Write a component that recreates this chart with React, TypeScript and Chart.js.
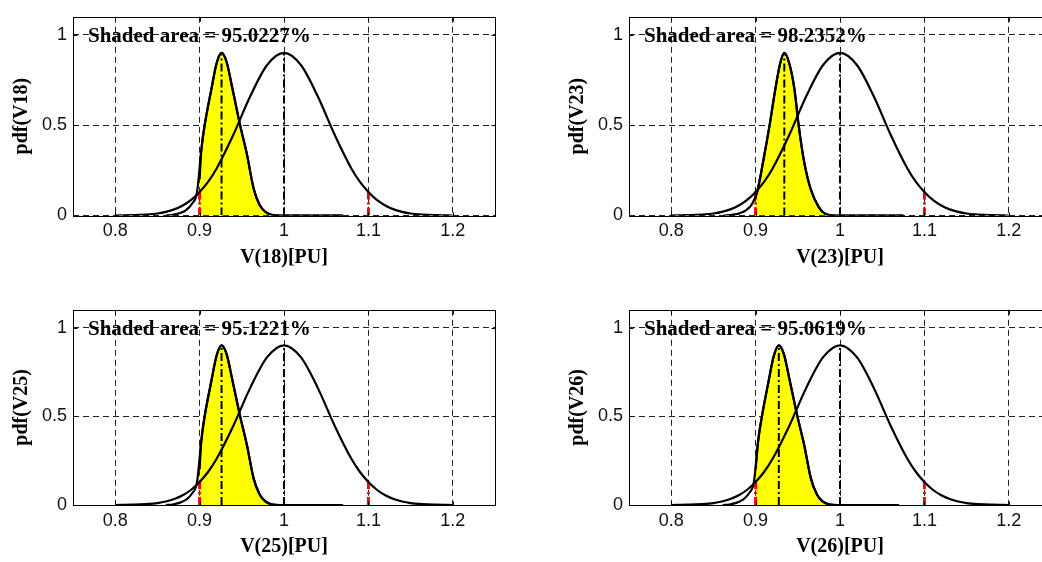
import React, { useEffect, useRef } from "react";
import { Chart, registerables } from "chart.js";

Chart.register(...registerables);

// ---- axis ticks ----
const xTicks = [0.8, 0.9, 1.0, 1.1, 1.2];
const xTickLabels = ["0.8", "0.9", "1", "1.1", "1.2"];
const yTicks = [0, 0.5, 1];
const yTickLabels = ["0", "0.5", "1"];

// ---- panels ----
const busIds = ["18", "23", "25", "26"];
const shadedAreas = ["95.0227%", "98.2352%", "95.1221%", "95.0619%"];

// ---- wide pdf (same in all panels) ----
const wideX = [0.80, 0.82, 0.84, 0.85, 0.86, 0.87, 0.88, 0.89, 0.90, 0.91, 0.92, 0.94, 0.96, 0.98, 1.00, 1.02, 1.04, 1.06, 1.08, 1.09, 1.10, 1.11, 1.12, 1.13, 1.14, 1.15, 1.16, 1.18, 1.20];
const wideY = [0, 0.002, 0.006, 0.011, 0.02, 0.034, 0.055, 0.086, 0.13, 0.186, 0.259, 0.447, 0.66, 0.833, 0.9, 0.833, 0.66, 0.447, 0.259, 0.186, 0.13, 0.086, 0.055, 0.034, 0.02, 0.011, 0.006, 0.002, 0];

// ---- narrow pdfs ----
const narrowX18 = [0.860, 0.868, 0.876, 0.884, 0.891, 0.897, 0.902, 0.906, 0.914, 0.920, 0.926, 0.932, 0.939, 0.948, 0.956, 0.964, 0.971, 0.978, 0.985, 0.995, 1.070];
const narrowY18 = [0, 0.003, 0.012, 0.03, 0.065, 0.13, 0.36, 0.5, 0.7, 0.84, 0.9, 0.85, 0.7, 0.5, 0.34, 0.15, 0.06, 0.02, 0.004, 0, 0];
const narrowX23 = [0.862, 0.872, 0.881, 0.889, 0.896, 0.902, 0.909, 0.9166, 0.9234, 0.929, 0.934, 0.940, 0.946, 0.951, 0.957, 0.965, 0.975, 0.983, 0.993, 1.075];
const narrowY23 = [0, 0.004, 0.012, 0.03, 0.065, 0.133, 0.3, 0.5, 0.7, 0.84, 0.9, 0.84, 0.7, 0.5, 0.31, 0.15, 0.045, 0.008, 0, 0];
const narrowX25 = [0.860, 0.868, 0.876, 0.884, 0.891, 0.897, 0.902, 0.906, 0.914, 0.920, 0.926, 0.932, 0.939, 0.948, 0.956, 0.964, 0.971, 0.978, 0.985, 0.995, 1.070];
const narrowY25 = [0, 0.003, 0.012, 0.03, 0.065, 0.13, 0.36, 0.5, 0.7, 0.84, 0.9, 0.85, 0.7, 0.5, 0.34, 0.15, 0.06, 0.02, 0.004, 0, 0];
const narrowX26 = [0.861, 0.869, 0.877, 0.885, 0.892, 0.898, 0.903, 0.9075, 0.9155, 0.9215, 0.9275, 0.9335, 0.9405, 0.9495, 0.9575, 0.9655, 0.9725, 0.9795, 0.9865, 0.9965, 1.070];
const narrowY26 = [0, 0.003, 0.012, 0.03, 0.065, 0.13, 0.36, 0.5, 0.7, 0.84, 0.9, 0.85, 0.7, 0.5, 0.34, 0.15, 0.06, 0.02, 0.004, 0, 0];

const narrowXs = [narrowX18, narrowX23, narrowX25, narrowX26];
const narrowYs = [narrowY18, narrowY23, narrowY25, narrowY26];

// ---- markers ----
const narrowPeakX = [0.926, 0.934, 0.926, 0.9275];
const widePeakX = 1.0;
const peakY = 0.9;
const limitX = [0.9, 1.1];
const limitY = [0.133, 0.133];
const shadeStartY = [0.2, 0.1, 0.2, 0.2];

// ---- layout (pixels, not data) ----
const panelLayout = [
  { left: 0, top: 0, height: 270, xAxisH: 54.5 },
  { left: 556, top: 0, height: 270, xAxisH: 54.5 },
  { left: 0, top: 293, height: 266, xAxisH: 54 },
  { left: 556, top: 293, height: 266, xAxisH: 54 },
];
const CANVAS_W = 499;
const Y_AXIS_W = 73;

const boxPlugin = {
  id: "matlabBox",
  afterDraw(chart: any, _args: any, opts: any) {
    const { ctx, chartArea: a, scales } = chart;
    ctx.save();
    ctx.strokeStyle = "#000";
    ctx.lineWidth = 1;
    ctx.setLineDash([]);
    const l = Math.round(a.left) + 0.5;
    const t = Math.round(a.top) + 0.5;
    const r = Math.round(a.right) + 0.5;
    const b = Math.round(a.bottom) + 0.5;
    ctx.strokeRect(l, t, r - l, b - t);
    ctx.beginPath();
    for (const v of xTicks) {
      const px = Math.round(scales.x.getPixelForValue(v)) + 0.5;
      ctx.moveTo(px, b);
      ctx.lineTo(px, b - 4);
      ctx.moveTo(px, t);
      ctx.lineTo(px, t + 4);
    }
    for (const v of yTicks) {
      const py = Math.round(scales.y.getPixelForValue(v)) + 0.5;
      ctx.moveTo(l, py);
      ctx.lineTo(l + 4, py);
      ctx.moveTo(r, py);
      ctx.lineTo(r - 4, py);
    }
    ctx.stroke();
    ctx.fillStyle = "#000";
    ctx.font = 'bold 21px "Liberation Serif"';
    ctx.textBaseline = "alphabetic";
    ctx.textAlign = "left";
    ctx.fillText(opts.label, a.left + 15, scales.y.getPixelForValue(1) + 7.5);
    ctx.restore();
  },
};

function Panel({ idx }: { idx: number }) {
  const ref = useRef<HTMLCanvasElement | null>(null);
  const lay = panelLayout[idx];
  useEffect(() => {
    if (!ref.current) return;
    const nx = narrowXs[idx];
    const ny = narrowYs[idx];
    const narrowPts = nx.map((x, i) => ({ x, y: ny[i] }));
    const widePts = wideX.map((x, i) => ({ x, y: wideY[i] }));
    const shadePts = [{ x: limitX[0], y: shadeStartY[idx] }];
    nx.forEach((x, i) => {
      if (x > limitX[0] && x <= limitX[1]) shadePts.push({ x, y: ny[i] });
    });
    const dashDot = [8, 3, 2, 3];
    const chart = new Chart(ref.current, {
      type: "line",
      data: {
        datasets: [
          {
            order: 0,
            data: shadePts,
            borderColor: "#000",
            borderWidth: 2.2,
            backgroundColor: "#ffff00",
            pointRadius: 0,
            cubicInterpolationMode: "monotone",
            fill: "origin",
          },
          {
            order: 1,
            data: narrowPts,
            borderColor: "#000",
            borderWidth: 2.2,
            pointRadius: 0,
            cubicInterpolationMode: "monotone",
            fill: false,
          },
          {
            order: 2,
            data: widePts,
            borderColor: "#000",
            borderWidth: 2.2,
            pointRadius: 0,
            cubicInterpolationMode: "monotone",
            fill: false,
          },
          {
            order: 3,
            data: [
              { x: limitX[0], y: 0 },
              { x: limitX[0], y: limitY[0] },
            ],
            borderColor: "#ff0000",
            borderWidth: 3,
            borderDash: dashDot,
            pointRadius: 0,
            fill: false,
          },
          {
            order: 3,
            data: [
              { x: limitX[1], y: 0 },
              { x: limitX[1], y: limitY[1] },
            ],
            borderColor: "#ff0000",
            borderWidth: 3,
            borderDash: dashDot,
            pointRadius: 0,
            fill: false,
          },
          {
            order: 4,
            data: [
              { x: narrowPeakX[idx], y: 0 },
              { x: narrowPeakX[idx], y: peakY },
            ],
            borderColor: "#000",
            borderWidth: 2,
            borderDash: dashDot,
            pointRadius: 0,
            fill: false,
          },
          {
            order: 4,
            data: [
              { x: widePeakX, y: 0 },
              { x: widePeakX, y: peakY },
            ],
            borderColor: "#000",
            borderWidth: 2,
            borderDash: dashDot,
            pointRadius: 0,
            fill: false,
          },
        ],
      },
      options: {
        responsive: false,
        animation: false,
        devicePixelRatio: 1,
        events: [],
        layout: { padding: { top: 8, right: 4, left: 0, bottom: 0 } },
        plugins: {
          legend: { display: false },
          tooltip: { enabled: false },
          filler: { drawTime: "beforeDatasetsDraw" },
          matlabBox: { label: "Shaded area = " + shadedAreas[idx] },
        } as any,
        scales: {
          x: {
            type: "linear",
            min: 0.75,
            max: 1.25,
            afterBuildTicks: (s: any) => {
              s.ticks = xTicks.map((v) => ({ value: v }));
            },
            afterFit: (s: any) => {
              s.height = lay.xAxisH;
            },
            ticks: {
              autoSkip: false,
              maxRotation: 0,
              padding: 5,
              color: "#111",
              font: { family: "Liberation Sans", size: 18 },
              callback: (_v: any, i: number) => xTickLabels[i],
            },
            grid: { color: "#222", lineWidth: 1, drawTicks: false },
            border: { display: false, dash: [6, 4] },
            title: {
              display: true,
              text: "V(" + busIds[idx] + ")[PU]",
              color: "#000",
              padding: 0,
              font: { family: "Liberation Serif", size: 20, weight: "bold" },
            },
          },
          y: {
            type: "linear",
            min: 0,
            max: 1.1,
            afterBuildTicks: (s: any) => {
              s.ticks = yTicks.map((v) => ({ value: v }));
            },
            afterFit: (s: any) => {
              s.width = Y_AXIS_W;
            },
            ticks: {
              autoSkip: false,
              padding: 6,
              color: "#111",
              font: { family: "Liberation Sans", size: 18 },
              callback: (_v: any, i: number) => yTickLabels[i],
            },
            grid: { color: "#222", lineWidth: 1, drawTicks: false },
            border: { display: false, dash: [6, 4] },
            title: {
              display: true,
              text: "pdf(V" + busIds[idx] + ")",
              color: "#000",
              padding: { top: 10, bottom: 0 },
              font: { family: "Liberation Serif", size: 20, weight: "bold" },
            },
          },
        },
      } as any,
      plugins: [boxPlugin],
    });
    return () => chart.destroy();
  }, [idx]);
  return (
    <div style={{ position: "absolute", left: lay.left, top: lay.top, width: CANVAS_W, height: lay.height }}>
      <canvas ref={ref} width={CANVAS_W} height={lay.height} style={{ display: "block" }} />
    </div>
  );
}

export default function App() {
  return (
    <div
      style={{
        position: "fixed",
        left: 0,
        top: 0,
        width: 1042,
        height: 562,
        overflow: "hidden",
        background: "#fff",
      }}
    >
      {busIds.map((_b, i) => (
        <Panel key={i} idx={i} />
      ))}
    </div>
  );
}
